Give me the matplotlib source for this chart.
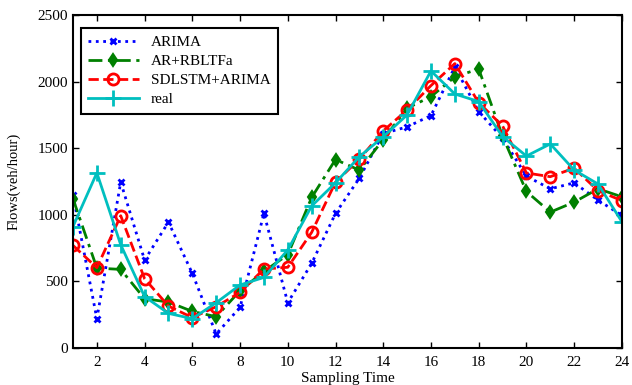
import matplotlib
matplotlib.use("Agg")
import matplotlib.pyplot as plt

plt.rcParams['font.family'] = ['Liberation Serif', 'DejaVu Serif']

t = list(range(1, 25))

arima = [1150, 220, 1245, 660, 945, 560, 105, 305, 1010, 340, 635, 1010,
         1275, 1610, 1660, 1745, 2110, 1775, 1575, 1290, 1195, 1240, 1110, 995]
ar_rbltfa = [1120, 600, 590, 370, 345, 275, 235, 430, 575, 700, 1130, 1415,
             1335, 1565, 1800, 1887, 2035, 2095, 1590, 1175, 1020, 1095, 1195, 1135]
sdlstm_arima = [770, 603, 993, 520, 315, 228, 310, 418, 593, 606, 868, 1245,
                1417, 1630, 1787, 1970, 2135, 1842, 1667, 1314, 1286, 1350, 1181, 1106]
real = [912, 1315, 775, 386, 260, 220, 340, 473, 530, 736, 1066, 1240,
        1436, 1586, 1750, 2080, 1907, 1850, 1587, 1441, 1532, 1336, 1231, 948]

xticks = list(range(2, 25, 2))
yticks = [0, 500, 1000, 1500, 2000, 2500]

fig = plt.figure(figsize=(6.32, 3.85), dpi=100)
ax = fig.add_axes([0.1155, 0.0961, 0.8685, 0.865])

ax.plot(t, arima, ':', color='blue', lw=2, marker='x', ms=5, mew=2, label='ARIMA')
ax.plot(t, ar_rbltfa, color='green', lw=2, ls=(0, (5, 2, 1.2, 2)), marker='d',
        ms=6, mew=1.5, markerfacecolor='green', label='AR+RBLTFa')
ax.plot(t, sdlstm_arima, '--', color='red', lw=2, marker='o', ms=8, mew=2,
        markerfacecolor='none', label='SDLSTM+ARIMA')
ax.plot(t, real, '-', color='#00BFBF', lw=2, marker='+', ms=11, mew=2, label='real')

ax.set_xlim(1, 24)
ax.set_ylim(0, 2500)
ax.set_xticks(xticks)
ax.set_yticks(yticks)
ax.tick_params(direction='in', top=True, right=True, length=4, width=1, labelsize=11)
ax.tick_params(axis='x', pad=6)
for s in ax.spines.values():
    s.set_linewidth(1.5)

ax.set_xlabel('Sampling Time', fontsize=11, labelpad=2)
ax.set_ylabel('Flows(veh/hour)', fontsize=10.5, labelpad=12)

leg = ax.legend(loc='upper left', fontsize=11, fancybox=False, edgecolor='black',
                framealpha=1, handlelength=3.3, borderpad=0.5, labelspacing=0.35,
                bbox_to_anchor=(0.0, 0.985))
leg.get_frame().set_linewidth(1.5)

fig.savefig('out.png', dpi=100)
